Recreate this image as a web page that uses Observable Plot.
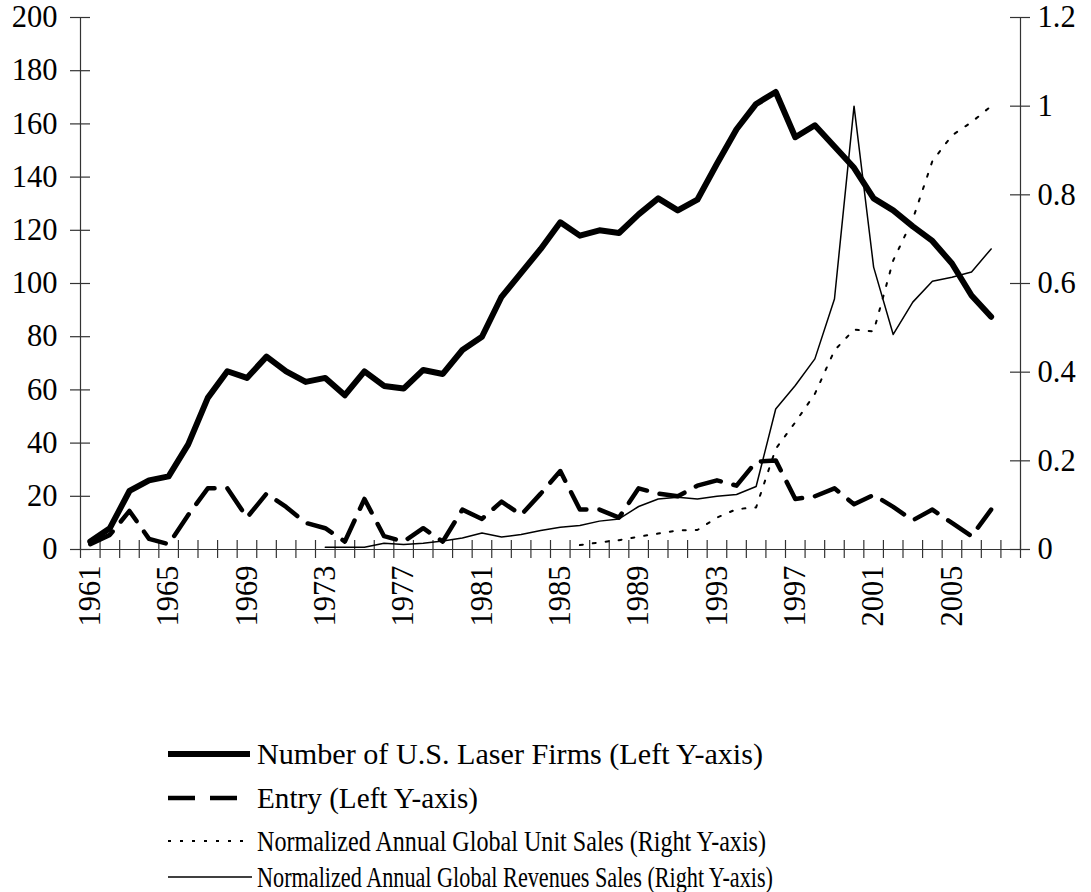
<!DOCTYPE html>
<html><head><meta charset="utf-8">
<script src="https://cdn.jsdelivr.net/npm/d3@7"></script>
<script src="https://cdn.jsdelivr.net/npm/@observablehq/plot@0.6"></script>
<style>
html,body{margin:0;padding:0;background:#fff;overflow:hidden;}
#wrap{position:relative;width:1091px;height:892px;font-family:"Liberation Serif","Times New Roman",serif;}
#chart{position:absolute;left:0;top:0;}
.row{position:absolute;left:168px;height:40px;display:flex;align-items:center;font-size:30px;white-space:nowrap;color:#000;line-height:36px;}
.row svg{width:84px;height:40px;margin-right:5px;flex:none;}
.row span{display:inline-block;transform-origin:0 50%;}
</style></head><body><div id="wrap"><div id="chart"></div><div id="legend"></div></div>
<script>
// ---- data ----
const years = [1961,1962,1963,1964,1965,1966,1967,1968,1969,1970,
  1971,1972,1973,1974,1975,1976,1977,1978,1979,1980,
  1981,1982,1983,1984,1985,1986,1987,1988,1989,1990,
  1991,1992,1993,1994,1995,1996,1997,1998,1999,2000,
  2001,2002,2003,2004,2005,2006,2007];
const firms = [3,8,22,26,27.5,39.5,57,67,64.5,72.5,
  67,63,64.5,58,67,61.5,60.5,67.5,66,75,
  80,95,104,113,123,118,120,119,126,132,
  127.5,131.5,145,158,167.5,172,155,159.5,151.5,143.5,
  132,127.5,121.5,116,107.5,95.5,87.5];
const entry = [2,5.5,14.5,4,2,13,23,23,12,21,
  16,10,8,3,19,5,3,8,3,15,
  11.5,18,13,21,29.5,15,15,12,23,21,
  20,24,26,24,33,33.5,19,20,23,17,
  20.5,16,11,15,10,5,15];
const unitSales = [null,null,null,null,null,null,null,null,null,null,
  null,null,null,null,null,null,null,null,null,null,
  null,null,null,null,null,0.01,0.016,0.021,0.029,0.036,
  0.043,0.044,0.072,0.091,0.095,0.227,0.287,0.351,0.449,0.496,
  0.492,0.652,0.745,0.876,0.934,0.964,1.0];
const revenues = [null,null,null,null,null,null,null,null,null,null,
  null,null,0.005,0.005,0.005,0.014,0.011,0.014,0.019,0.026,
  0.037,0.028,0.034,0.043,0.05,0.054,0.064,0.069,0.097,0.114,
  0.118,0.114,0.12,0.124,0.142,0.317,0.37,0.43,0.565,1.0,
  0.637,0.485,0.558,0.605,0.614,0.626,0.678];
const categoryYears = [...years, 2008]; // Excel category axis has one empty slot at the end
const xLabelYears = [1961,1965,1969,1973,1977,1981,1985,1989,1993,1997,2001,2005];
const leftTicks = [0,20,40,60,80,100,120,140,160,180,200];
const rightTicks = [0,0.2,0.4,0.6,0.8,1,1.2];
const rightTickLabels = ["0","0.2","0.4","0.6","0.8","1","1.2"];
const seriesNames = [
  "Number of U.S. Laser Firms (Left Y-axis)",
  "Entry (Left Y-axis)",
  "Normalized Annual Global Unit Sales (Right Y-axis)",
  "Normalized Annual Global Revenues Sales (Right Y-axis)"
];

// ---- build ----
const leftMax = 200, rightMax = 1.2;
const k = leftMax / rightMax;
const rows = years.map((y, i) => ({year: y, firms: firms[i], entry: entry[i], units: unitSales[i], rev: revenues[i]}));
const xDomain = [categoryYears[0] - 0.5, categoryYears[categoryYears.length - 1] + 0.5];
const xBounds = [...categoryYears.map(y => y - 0.5), xDomain[1]];
const axisColor = "#333";

const chart = Plot.plot({
  width: 1091, height: 660,
  marginLeft: 80, marginRight: 71, marginTop: 17, marginBottom: 111,
  x: {domain: xDomain, axis: null},
  y: {domain: [0, leftMax], axis: null},
  style: {fontFamily: "'Liberation Serif','Times New Roman',serif", fontSize: "30.5px", background: "white", color: "black", overflow: "visible"},
  marks: [
    // axis lines
    Plot.ruleX([xDomain[0], xDomain[1]], {stroke: axisColor, strokeWidth: 1.2}),
    Plot.ruleY([0], {stroke: axisColor, strokeWidth: 1.2}),
    // crossing tick marks
    Plot.ruleY(leftTicks, {y: d => d, x1: xDomain[0], x2: xDomain[0], insetLeft: -10, insetRight: -10, stroke: axisColor, strokeWidth: 1.2}),
    Plot.ruleY(rightTicks, {y: d => d * k, x1: xDomain[1], x2: xDomain[1], insetLeft: -10, insetRight: -10, stroke: axisColor, strokeWidth: 1.2}),
    Plot.ruleX(xBounds, {x: d => d, y1: 0, y2: 0, insetTop: -9, insetBottom: -9, stroke: axisColor, strokeWidth: 1.2}),
    // tick labels
    Plot.text(leftTicks, {x: xDomain[0], y: d => d, text: d => String(d), textAnchor: "end", dx: -23, fill: "black"}),
    Plot.text(rightTicks, {x: xDomain[1], y: d => d * k, text: (d, i) => rightTickLabels[i], textAnchor: "start", dx: 17, fill: "black"}),
    Plot.text(xLabelYears, {x: d => d, y: 0, text: d => String(d), rotate: -90, textAnchor: "end", dy: 16, fill: "black"}),
    // series
    Plot.line(rows.filter(d => d.rev != null), {x: "year", y: d => d.rev * k, stroke: "black", strokeWidth: 1.5, curve: "linear"}),
    Plot.line(rows.filter(d => d.units != null), {x: "year", y: d => d.units * k, stroke: "black", strokeWidth: 2, strokeDasharray: "3,10", curve: "linear"}),
    Plot.line(rows, {x: "year", y: "entry", stroke: "black", strokeWidth: 4.5, strokeDasharray: "26,13", curve: "linear"}),
    Plot.line(rows, {x: "year", y: "firms", stroke: "black", strokeWidth: 6, strokeLinejoin: "round", curve: "linear"})
  ]
});
document.getElementById("chart").appendChild(chart);

// ---- legend ----
const swatches = [
  {w: 6, dash: null, x2: 82},
  {w: 4.5, dash: "27,15", x2: 77},
  {w: 2, dash: "3,9", x2: 76},
  {w: 1.5, dash: null, x2: 84}
];
const centers = [754, 798, 841, 877];
const textWidths = [506, 221, 509, 516]; // rendered widths of the legend labels in the original
const legend = document.getElementById("legend");
seriesNames.forEach((name, i) => {
  const row = document.createElement("div");
  row.className = "row";
  row.style.top = (centers[i] - 20) + "px";
  const s = swatches[i];
  row.innerHTML = `<svg viewBox="0 0 84 40"><line x1="0" y1="20" x2="${s.x2}" y2="20" stroke="black" stroke-width="${s.w}" ${s.dash ? `stroke-dasharray="${s.dash}"` : ""}/></svg><span>${name}</span>`;
  legend.appendChild(row);
  const span = row.querySelector("span");
  const w = span.getBoundingClientRect().width;
  if (w > 0) span.style.transform = `scaleX(${textWidths[i] / w})`;
});
</script>
</body></html>
